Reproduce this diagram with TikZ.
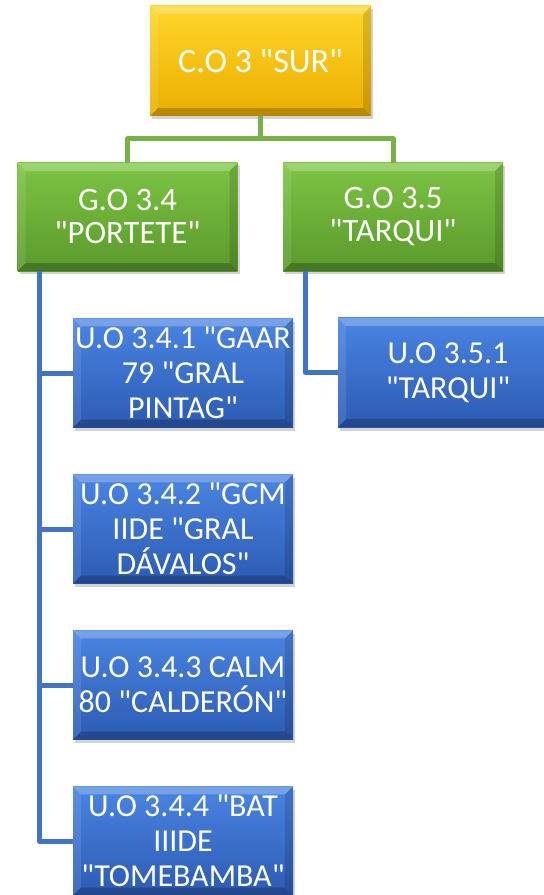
\documentclass[tikz,border=0pt]{standalone}
\usepackage{fontspec}
\setmainfont{Carlito}[Ligatures=TeXOff]
\usetikzlibrary{shadows}
\definecolor{goldtop}{HTML}{FFD62A}
\definecolor{goldbot}{HTML}{EBAE00}
\definecolor{greentop}{HTML}{7DC443}
\definecolor{greenbot}{HTML}{5A992C}
\definecolor{bluetop}{HTML}{4A84E2}
\definecolor{bluebot}{HTML}{2C5BB3}
\definecolor{greenline}{HTML}{77B148}
\definecolor{blueline}{HTML}{4472C4}

\begin{document}
\begin{tikzpicture}[x=0.75pt,y=-0.75pt,
  box/.style={rectangle,text=white,align=center,inner sep=0pt,
    drop shadow={shadow xshift=1.5pt,shadow yshift=-2.5pt,opacity=.35},
    path picture={
      \coordinate (bnw) at (path picture bounding box.north west);
      \coordinate (bne) at (path picture bounding box.north east);
      \coordinate (bsw) at (path picture bounding box.south west);
      \coordinate (bse) at (path picture bounding box.south east);
      \fill[white,opacity=.25] (bnw) -- (bne) -- ([shift={(-6pt,-6pt)}]bne) -- ([shift={(6pt,-6pt)}]bnw) -- cycle;
      \fill[white,opacity=.1] (bnw) -- ([shift={(6pt,-6pt)}]bnw) -- ([shift={(6pt,6pt)}]bsw) -- (bsw) -- cycle;
      \fill[black,opacity=.22] (bsw) -- (bse) -- ([shift={(-6pt,6pt)}]bse) -- ([shift={(6pt,6pt)}]bsw) -- cycle;
      \fill[black,opacity=.13] (bne) -- (bse) -- ([shift={(-6pt,6pt)}]bse) -- ([shift={(-6pt,-6pt)}]bne) -- cycle;
    }},
  cobox/.style={box,top color=goldtop,bottom color=goldbot,
    minimum width=165.75pt,minimum height=82.5pt,font=\fontsize{25.5}{30}\selectfont},
  gobox/.style={box,top color=greentop,bottom color=greenbot,
    minimum width=165pt,minimum height=81pt,font=\fontsize{24.5}{24.75}\selectfont},
  uobox/.style={box,top color=bluetop,bottom color=bluebot,
    minimum width=165pt,minimum height=82pt,font=\fontsize{24}{26.25}\selectfont},
  gline/.style={draw=greenline,line width=3.75pt,line join=round},
  bline/.style={draw=blueline,line width=3.75pt,line join=round}]
\useasboundingbox (0,0) rectangle (543,895);
% \draw[help lines,step=50] (0,0) grid (543,895);
\node (co3) [cobox] at (260.5,61) {C.O 3 "SUR"};
%
\node (go34) [gobox] at (127.5,217) {G.O 3.4\\"PORTETE"};
\node (go35) [gobox] at (393,217) {G.O 3.5\\"TARQUI"};
%
\node (uo341) [uobox] at (183,373) {U.O 3.4.1 "GAAR\\79 "GRAL\\PINTAG"};
\node (uo342) [uobox] at (183,529) {U.O 3.4.2 "GCM\\IIDE "GRAL\\DÁVALOS"};
\node (uo343) [uobox] at (183,685) {U.O 3.4.3 CALM\\80 "CALDERÓN"};
\node (uo344) [uobox] at (183,841) {U.O 3.4.4 "BAT\\IIIDE\\"TOMEBAMBA"};
\node (uo351) [uobox] at (448,372.5) {U.O 3.5.1\\"TARQUI"};
%
\coordinate (gbus) at (co3 |- 0,139);
\draw[gline] (co3.south) -- (gbus);
\draw[gline] (go34.north) |- (gbus) -| (go35.north);
%
\coordinate (lbus) at ([xshift=16.5pt]go34.south west);
\draw[bline] (lbus) |- (uo344.west);
\foreach \u in {uo341,uo342,uo343}
  \draw[bline] (lbus |- \u.west) -- (\u.west);
\draw[bline] ([xshift=17pt]go35.south west) |- (uo351.west);
\end{tikzpicture}
\end{document}
